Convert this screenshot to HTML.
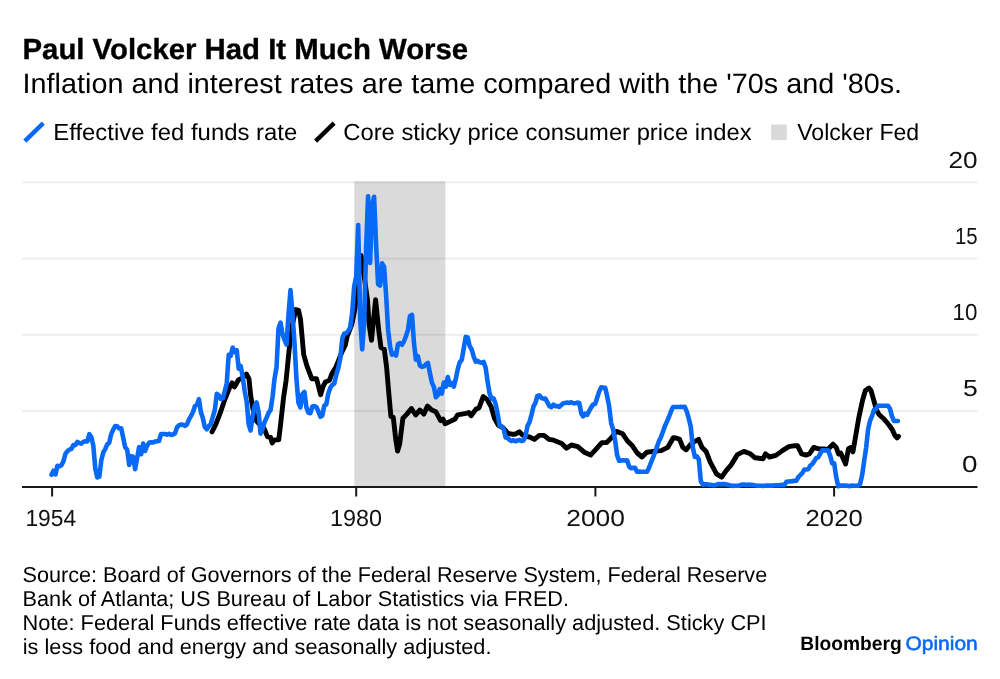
<!DOCTYPE html>
<html><head><meta charset="utf-8"><title>Paul Volcker Had It Much Worse</title>
<style>
html,body{margin:0;padding:0;background:#fff;}
body{width:1000px;height:679px;overflow:hidden;font-family:"Liberation Sans",sans-serif;}
svg{display:block;will-change:transform;}
text{font-family:"Liberation Sans",sans-serif;fill:#000;text-rendering:geometricPrecision;}
.ax{font-size:21.8px;fill:#111;}
</style></head><body>
<svg width="1000" height="679" viewBox="0 0 1000 679">
<rect width="1000" height="679" fill="#fff"/>
<text x="22.53" y="59.2" textLength="445.61" lengthAdjust="spacingAndGlyphs" style="font-size:29.0px;font-weight:bold;stroke:#000;stroke-width:0.35px">Paul Volcker Had It Much Worse</text>
<text x="22.64" y="93.3" textLength="879.41" lengthAdjust="spacingAndGlyphs" style="font-size:28.0px;">Inflation and interest rates are tame compared with the &#39;70s and &#39;80s.</text>
<line x1="24.8" y1="141.2" x2="43.3" y2="123.2" stroke="#0869f6" stroke-width="4.4"/>
<text x="53.27" y="140.3" textLength="243.98" lengthAdjust="spacingAndGlyphs" style="font-size:23.2px;">Effective fed funds rate</text>
<line x1="315.6" y1="141.2" x2="334.1" y2="123.2" stroke="#000" stroke-width="4.4"/>
<text x="343.29" y="140.3" textLength="408.35" lengthAdjust="spacingAndGlyphs" style="font-size:23.2px;">Core sticky price consumer price index</text>
<rect x="771.2" y="124.5" width="15.6" height="15.6" fill="#d9d9d9"/>
<text x="797.22" y="140.3" textLength="121.96" lengthAdjust="spacingAndGlyphs" style="font-size:23.2px;">Volcker Fed</text>
<rect x="354.3" y="181.4" width="91" height="305.6" fill="#dadada"/>
<rect x="22" y="181.4" width="955.5" height="2" fill="#000" fill-opacity="0.07"/>
<rect x="22" y="257.6" width="955.5" height="2" fill="#000" fill-opacity="0.07"/>
<rect x="22" y="333.8" width="955.5" height="2" fill="#000" fill-opacity="0.07"/>
<rect x="22" y="410.0" width="955.5" height="2" fill="#000" fill-opacity="0.07"/>

<rect x="22" y="486" width="955.5" height="2" fill="#1a1a1a"/>
<text x="948.56" y="167.6" textLength="29.14" lengthAdjust="spacingAndGlyphs" style="font-size:23.3px;fill:#111">20</text>
<text x="954.93" y="243.8" textLength="22.68" lengthAdjust="spacingAndGlyphs" style="font-size:23.3px;fill:#111">15</text>
<text x="952.54" y="320.0" textLength="24.89" lengthAdjust="spacingAndGlyphs" style="font-size:23.3px;fill:#111">10</text>
<text x="963.05" y="396.2" textLength="14.78" lengthAdjust="spacingAndGlyphs" style="font-size:23.3px;fill:#111">5</text>
<text x="962.08" y="472.4" textLength="15.50" lengthAdjust="spacingAndGlyphs" style="font-size:23.3px;fill:#111">0</text>

<path d="M212.0 431.9 L216.0 423.8 L220.9 411.0 L224.1 401.4 L230.5 385.3 L232.1 382.9 L234.5 386.9 L238.5 379.7 L242.5 378.0 L246.5 374.1 L249.0 378.9 L250.6 395.0 L253.0 409.4 L256.2 420.6 L260.0 425.0 L264.2 428.7 L267.4 436.7 L270.6 437.5 L272.2 443.1 L274.6 439.9 L278.7 439.9 L280.3 427.0 L283.5 398.2 L286.1 380.3 L289.3 348.2 L292.5 324.1 L295.7 309.6 L298.6 310.4 L300.5 319.3 L302.1 336.9 L303.7 354.6 L306.9 365.8 L311.7 378.7 L316.5 378.7 L318.2 385.1 L320.6 394.7 L323.0 386.7 L325.4 381.9 L329.4 380.3 L331.8 373.8 L335.8 367.4 L342.2 351.4 L345.4 344.9 L347.0 336.9 L351.9 324.1 L355.1 308.0 L358.0 280.0 L361.0 255.4 L364.0 275.0 L367.5 300.0 L369.1 324.6 L371.5 340.3 L373.5 320.0 L375.6 299.7 L378.8 331.0 L381.0 347.6 L384.3 349.2 L386.6 367.4 L388.8 393.1 L390.9 416.5 L393.3 417.4 L395.7 439.0 L397.6 451.1 L399.7 443.8 L402.9 418.2 L406.9 414.1 L411.4 408.5 L415.7 414.9 L419.8 410.1 L423.8 414.1 L427.5 406.1 L431.8 410.1 L435.8 411.7 L440.6 420.6 L443.0 419.0 L445.1 423.8 L450.3 421.4 L455.1 419.0 L457.5 414.9 L466.3 413.3 L468.7 412.5 L471.1 415.7 L475.9 409.3 L479.1 407.7 L483.2 396.5 L487.2 399.7 L491.2 406.9 L494.4 418.2 L498.4 425.4 L503.2 427.8 L508.0 433.4 L512.0 434.2 L515.3 434.2 L519.3 431.8 L522.5 435.0 L524.8 436.2 L529.6 437.0 L534.4 439.4 L539.3 435.4 L544.1 435.4 L548.9 439.4 L553.7 440.2 L561.7 443.4 L566.5 448.2 L571.4 445.0 L577.8 446.6 L584.2 452.2 L590.6 455.1 L595.4 449.8 L601.9 442.6 L606.7 442.6 L611.5 437.8 L616.3 431.4 L622.7 433.8 L627.5 441.0 L632.4 445.8 L637.2 453.0 L642.0 457.0 L646.8 452.2 L653.2 451.4 L661.2 450.6 L667.7 447.4 L673.3 437.8 L676.0 438.0 L679.6 439.4 L682.8 447.4 L686.0 449.8 L690.9 444.2 L694.1 441.8 L698.6 439.4 L702.1 447.4 L706.1 451.4 L710.1 461.9 L716.5 473.9 L721.7 477.1 L726.2 470.7 L731.0 465.1 L737.4 454.6 L743.8 451.4 L750.3 453.8 L755.1 457.8 L763.1 458.7 L765.5 453.8 L769.5 457.0 L775.9 455.4 L782.4 450.6 L788.8 446.6 L793.6 445.8 L797.6 445.8 L801.6 453.8 L806.4 455.1 L809.6 453.8 L813.7 447.4 L819.3 449.0 L824.1 449.0 L827.5 449.7 L833.0 444.2 L836.3 447.5 L838.5 454.1 L840.7 453.0 L845.6 464.0 L848.5 448.6 L850.7 447.5 L852.9 451.9 L855.4 437.6 L858.8 417.7 L862.6 400.0 L865.4 390.5 L869.0 388.0 L871.0 390.5 L873.7 400.0 L876.5 410.0 L879.0 414.5 L884.0 419.0 L889.0 425.0 L892.5 430.0 L894.8 435.3 L897.1 438.0 L898.5 436.4" fill="none" stroke="#000" stroke-width="4.9" stroke-linejoin="round" stroke-linecap="round"/>
<path d="M51.5 474.8 L53.5 470.7 L55.5 474.4 L57.4 465.8 L59.4 466.4 L61.4 465.2 L63.4 461.4 L65.4 453.8 L67.4 451.2 L69.4 449.7 L71.4 448.9 L73.4 445.1 L75.4 445.1 L77.4 442.0 L79.4 443.1 L81.4 443.7 L83.3 441.9 L85.3 441.3 L87.3 441.4 L89.3 434.1 L91.3 437.0 L93.3 445.5 L95.3 468.7 L97.3 477.4 L99.3 476.6 L101.3 460.2 L103.3 452.4 L105.2 449.2 L107.2 444.3 L109.2 442.8 L111.2 434.1 L113.2 429.7 L115.2 426.0 L117.2 426.2 L119.2 428.5 L121.2 428.3 L123.2 437.8 L125.2 447.4 L127.2 449.8 L129.2 464.9 L131.1 456.2 L133.1 456.8 L135.1 469.2 L137.1 458.3 L139.1 447.2 L141.1 454.2 L143.1 443.6 L145.1 451.0 L147.1 445.7 L149.1 442.8 L151.1 442.2 L153.1 442.5 L155.0 441.6 L157.0 441.3 L159.0 441.0 L161.0 434.0 L163.0 434.0 L165.0 434.0 L167.0 434.7 L169.0 433.7 L171.0 434.9 L173.0 434.4 L175.0 433.4 L176.9 427.6 L178.9 425.4 L180.9 424.5 L182.9 424.7 L184.9 425.9 L186.9 424.5 L188.9 419.6 L190.9 416.1 L192.9 412.3 L194.9 406.2 L196.9 404.7 L198.9 399.2 L200.8 411.7 L202.8 418.0 L204.8 427.0 L206.8 429.2 L208.8 426.2 L210.8 424.1 L212.8 416.9 L214.8 410.0 L216.8 393.9 L218.8 395.3 L220.8 398.9 L222.8 398.3 L224.8 391.0 L226.7 383.5 L228.7 354.9 L230.7 355.8 L232.7 347.6 L234.7 352.1 L236.7 350.1 L238.7 368.7 L240.7 366.0 L242.7 377.1 L244.7 391.1 L246.7 401.7 L248.6 423.9 L250.6 430.5 L252.6 416.4 L254.6 406.1 L256.6 402.4 L258.6 412.2 L260.6 433.7 L262.6 428.6 L264.6 421.9 L266.6 417.7 L268.6 412.8 L270.6 409.9 L272.6 396.5 L274.5 378.9 L276.5 367.5 L278.5 328.5 L280.5 322.7 L282.5 334.1 L284.5 339.9 L286.5 344.5 L288.5 314.6 L290.5 290.1 L292.5 314.2 L294.5 343.0 L296.4 378.3 L298.4 402.6 L300.4 407.4 L302.4 394.0 L304.4 391.9 L306.4 407.4 L308.4 412.8 L310.4 413.2 L312.4 406.4 L314.4 406.1 L316.4 407.0 L318.4 411.6 L320.4 416.7 L322.3 415.5 L324.3 405.5 L326.3 404.4 L328.3 393.4 L330.3 387.8 L332.3 384.9 L334.3 383.5 L336.3 374.8 L338.3 368.0 L340.3 358.2 L342.3 338.3 L344.2 333.5 L346.2 333.2 L348.2 330.9 L350.2 327.4 L352.2 312.8 L354.2 286.1 L356.2 276.4 L358.2 225.0 L360.2 319.7 L362.2 349.4 L364.2 321.3 L366.2 245.4 L368.1 196.2 L370.1 263.0 L372.1 204.8 L374.1 196.8 L376.1 245.1 L378.1 284.2 L380.1 285.5 L382.1 263.3 L384.1 266.8 L386.1 295.1 L388.1 329.9 L390.1 346.8 L392.0 354.7 L394.0 353.3 L396.0 355.5 L398.0 344.2 L400.0 343.0 L402.0 344.7 L404.0 341.3 L406.0 336.0 L408.0 329.7 L410.0 315.9 L412.0 314.8 L414.0 343.3 L415.9 359.7 L417.9 356.2 L419.9 365.5 L421.9 366.9 L423.9 366.3 L425.9 364.3 L427.9 362.9 L429.9 373.0 L431.9 382.6 L433.9 387.0 L435.9 397.2 L437.9 395.0 L439.8 389.0 L441.8 393.6 L443.8 382.6 L445.8 386.7 L447.8 377.0 L449.8 385.0 L451.8 382.9 L453.8 386.7 L455.8 378.9 L457.8 368.9 L459.8 362.2 L461.8 359.7 L463.8 348.0 L465.7 336.9 L467.7 337.5 L469.7 346.2 L471.7 349.5 L473.7 356.7 L475.7 361.6 L477.7 360.8 L479.7 362.3 L481.7 362.8 L483.7 362.0 L485.7 368.0 L487.6 381.7 L489.6 393.7 L491.6 398.9 L493.6 398.3 L495.6 403.9 L497.6 413.7 L499.6 425.6 L501.6 426.3 L503.6 428.8 L505.6 437.5 L507.6 437.9 L509.6 439.9 L511.5 441.0 L513.5 440.2 L515.5 441.3 L517.5 440.4 L519.5 439.9 L521.5 441.0 L523.5 440.5 L525.5 436.1 L527.5 425.9 L529.5 422.1 L531.5 414.9 L533.5 406.4 L535.5 402.7 L537.4 395.9 L539.4 395.4 L541.4 397.8 L543.4 398.6 L545.4 398.6 L547.4 402.3 L549.4 406.1 L551.4 407.1 L553.4 404.7 L555.4 406.2 L557.4 406.1 L559.3 407.0 L561.3 404.9 L563.3 403.2 L565.3 402.9 L567.3 402.6 L569.3 402.9 L571.3 402.3 L573.3 403.3 L575.3 403.3 L577.3 402.6 L579.3 403.0 L581.3 413.4 L583.2 416.4 L585.2 413.7 L587.2 414.8 L589.2 411.0 L591.2 407.4 L593.2 404.4 L595.2 403.9 L597.2 397.8 L599.2 391.4 L601.2 387.3 L603.2 387.6 L605.2 387.8 L607.1 395.9 L609.1 406.1 L611.1 422.8 L613.1 429.5 L615.1 440.2 L617.1 455.1 L619.1 460.6 L621.1 460.6 L623.1 460.3 L625.1 460.6 L627.1 460.3 L629.1 466.6 L631.0 468.1 L633.0 467.9 L635.0 467.8 L637.0 471.6 L639.0 471.6 L641.0 471.8 L643.0 471.8 L645.0 471.8 L647.0 471.8 L649.0 467.8 L651.0 462.5 L653.0 457.6 L655.0 452.3 L656.9 446.9 L658.9 441.3 L660.9 437.3 L662.9 431.8 L664.9 426.0 L666.9 421.6 L668.9 417.0 L670.9 411.7 L672.9 407.1 L674.9 407.0 L676.9 407.0 L678.8 407.0 L680.8 406.8 L682.8 407.0 L684.8 406.8 L686.8 411.7 L688.8 418.6 L690.8 427.0 L692.8 447.2 L694.8 456.8 L696.8 456.4 L698.8 459.4 L700.8 481.1 L702.8 484.7 L704.7 484.3 L706.7 484.3 L708.7 484.6 L710.7 484.7 L712.7 485.2 L714.7 485.3 L716.7 484.6 L718.7 484.0 L720.7 484.3 L722.7 484.1 L724.7 484.1 L726.6 484.4 L728.6 484.9 L730.6 485.6 L732.6 485.9 L734.6 485.8 L736.6 485.8 L738.6 485.8 L740.6 485.0 L742.6 484.6 L744.6 484.6 L746.6 484.9 L748.6 484.6 L750.5 484.9 L752.5 484.9 L754.5 485.3 L756.5 485.6 L758.5 485.8 L760.5 485.8 L762.5 485.9 L764.5 485.8 L766.5 485.6 L768.5 485.6 L770.5 485.6 L772.5 485.6 L774.5 485.3 L776.4 485.3 L778.4 485.2 L780.4 485.0 L782.4 484.9 L784.4 485.2 L786.4 481.8 L788.4 481.5 L790.4 481.4 L792.4 481.1 L794.4 480.9 L796.4 480.8 L798.3 477.1 L800.3 475.0 L802.3 473.1 L804.3 469.5 L806.3 469.5 L808.3 469.3 L810.3 465.5 L812.3 464.0 L814.3 461.1 L816.3 457.9 L818.3 457.3 L820.3 453.5 L822.2 450.4 L824.2 450.3 L826.2 450.6 L828.2 450.4 L830.2 455.9 L832.2 463.4 L834.2 463.4 L836.2 477.1 L838.2 486.2 L840.2 485.6 L842.2 485.6 L844.2 485.6 L846.1 485.6 L848.1 485.9 L850.1 486.1 L852.1 485.5 L854.1 485.8 L856.1 485.8 L858.1 485.8 L860.1 484.0 L862.1 475.3 L864.1 461.4 L866.1 448.0 L868.1 429.4 L870.0 421.0 L872.0 416.1 L874.0 409.9 L876.0 409.0 L878.0 405.8 L880.0 405.8 L882.0 405.8 L884.0 405.8 L886.0 405.8 L888.0 405.8 L890.0 408.8 L892.0 416.3 L894.0 421.0 L895.9 421.0 L897.9 421.0" fill="none" stroke="#0869f6" stroke-width="4.6" stroke-linejoin="round" stroke-linecap="round"/>
<rect x="51.1" y="487" width="2" height="9.5" fill="#1a1a1a"/>
<rect x="355.2" y="487" width="2" height="9.5" fill="#1a1a1a"/>
<rect x="594.4" y="487" width="2" height="9.5" fill="#1a1a1a"/>
<rect x="833.1" y="487" width="2" height="9.5" fill="#1a1a1a"/>

<text x="25.41" y="526.3" textLength="50.71" lengthAdjust="spacingAndGlyphs" style="font-size:23.3px;fill:#111">1954</text>
<text x="330.02" y="526.3" textLength="51.99" lengthAdjust="spacingAndGlyphs" style="font-size:23.3px;fill:#111">1980</text>
<text x="566.23" y="526.3" textLength="58.71" lengthAdjust="spacingAndGlyphs" style="font-size:23.3px;fill:#111">2000</text>
<text x="805.62" y="526.3" textLength="57.05" lengthAdjust="spacingAndGlyphs" style="font-size:23.3px;fill:#111">2020</text>

<text x="22.59" y="581.8" textLength="744.61" lengthAdjust="spacingAndGlyphs" style="font-size:21.6px;">Source: Board of Governors of the Federal Reserve System, Federal Reserve</text>
<text x="22.63" y="605.8" textLength="546.39" lengthAdjust="spacingAndGlyphs" style="font-size:21.6px;">Bank of Atlanta; US Bureau of Labor Statistics via FRED.</text>
<text x="22.62" y="629.8" textLength="744.02" lengthAdjust="spacingAndGlyphs" style="font-size:21.6px;">Note: Federal Funds effective rate data is not seasonally adjusted. Sticky CPI</text>
<text x="22.75" y="653.8" textLength="468.72" lengthAdjust="spacingAndGlyphs" style="font-size:21.6px;">is less food and energy and seasonally adjusted.</text>
<text x="800.26" y="649.6" textLength="101.48" lengthAdjust="spacingAndGlyphs" style="font-size:19.4px;font-weight:bold;">Bloomberg</text>
<text x="905.50" y="649.6" textLength="72.20" lengthAdjust="spacingAndGlyphs" style="font-size:19.4px;fill:#0869f6;stroke:#0869f6;stroke-width:0.55px">Opinion</text>
</svg>
</body></html>
